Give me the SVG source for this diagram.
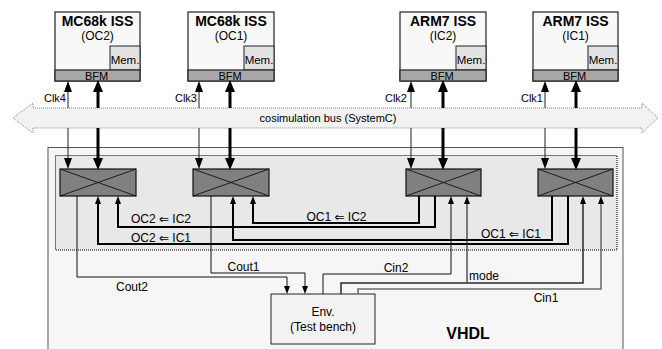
<svg xmlns="http://www.w3.org/2000/svg" width="662" height="349" viewBox="0 0 662 349">
<style>
text{font-family:"Liberation Sans",Arial,"DejaVu Sans",sans-serif;fill:#000}
.title{font-size:14px;font-weight:bold;text-anchor:middle}
.sub{font-size:12px;text-anchor:middle}
.lbl{font-size:12px}
.clk{font-size:11px;text-anchor:end}
.iss{fill:#f8f8f8;stroke:#222;stroke-width:1.2}
.mem{fill:#e2e2e2;stroke:#222;stroke-width:1}
.bfm{fill:#a8a8a8;stroke:#222;stroke-width:1.2}
.xb{fill:#808080;stroke:#111;stroke-width:1.2}
.xl{stroke:#111;stroke-width:0.9;fill:none}
.c{fill:none;stroke-linejoin:miter}
.thin{stroke:#333;stroke-width:1.1}
.thick{stroke:#000;stroke-width:3}
.med{stroke:#000;stroke-width:2}
.sig{stroke:#111;stroke-width:1}
.gray{stroke:#6e6e6e;stroke-width:1.6}
</style>
<defs>
<marker id="ab" markerUnits="userSpaceOnUse" markerWidth="12" markerHeight="11" refX="7" refY="5" orient="auto"><path d="M0,0 L12,5 L0,10 z" fill="#000"/></marker>
<marker id="am" markerUnits="userSpaceOnUse" markerWidth="11" markerHeight="9" refX="8" refY="4" orient="auto"><path d="M0,0 L11,4 L0,8 z" fill="#000"/></marker>
<marker id="as" markerUnits="userSpaceOnUse" markerWidth="8" markerHeight="7" refX="5" refY="3" orient="auto"><path d="M0,0 L8,3 L0,6 z" fill="#000"/></marker>
</defs>

<g id="vhdl">
<rect x="48" y="147.5" width="575" height="206" fill="#f6f6f6" stroke="#555" stroke-width="1"/>
<rect x="55.5" y="155.5" width="561.5" height="94.5" fill="#e8e8e8" stroke="#000" stroke-width="1" stroke-dasharray="1,1"/>
<text x="468" y="339" style="font-size:16px;font-weight:bold;text-anchor:middle">VHDL</text>
</g>

<g id="bus">
<path d="M13,118 L33,103 L33,108 L642,108 L642,103 L658,118 L642,133 L642,128 L33,128 L33,133 Z" fill="#f2f2f2" stroke="#888" stroke-width="1" stroke-dasharray="1,1"/>
<text x="328" y="122" style="font-size:11px;text-anchor:middle">cosimulation bus (SystemC)</text>
</g>

<g id="iss-oc2">
<rect class="iss" x="55" y="12" width="85" height="69"/>
<rect class="mem" x="110" y="46" width="30" height="24"/>
<rect class="bfm" x="55" y="70" width="85" height="11"/>
<text class="title" x="97.5" y="26">MC68k ISS</text>
<text class="sub" x="97.5" y="40">(OC2)</text>
<text x="125" y="64" style="font-size:11.5px;text-anchor:middle">Mem.</text>
<text x="96.5" y="80" style="font-size:11px;text-anchor:middle">BFM</text>
</g>
<g id="iss-oc1">
<rect class="iss" x="188" y="12" width="86" height="69"/>
<rect class="mem" x="244" y="46" width="30" height="24"/>
<rect class="bfm" x="188" y="70" width="86" height="11"/>
<text class="title" x="231" y="26">MC68k ISS</text>
<text class="sub" x="231" y="40">(OC1)</text>
<text x="259" y="64" style="font-size:11.5px;text-anchor:middle">Mem.</text>
<text x="230" y="80" style="font-size:11px;text-anchor:middle">BFM</text>
</g>
<g id="iss-ic2">
<rect class="iss" x="400" y="12" width="86" height="69"/>
<rect class="mem" x="456" y="46" width="30" height="24"/>
<rect class="bfm" x="400" y="70" width="86" height="11"/>
<text class="title" x="443" y="26">ARM7 ISS</text>
<text class="sub" x="443" y="40">(IC2)</text>
<text x="471" y="64" style="font-size:11.5px;text-anchor:middle">Mem.</text>
<text x="442" y="80" style="font-size:11px;text-anchor:middle">BFM</text>
</g>
<g id="iss-ic1">
<rect class="iss" x="533" y="12" width="85" height="69"/>
<rect class="mem" x="588" y="46" width="30" height="24"/>
<rect class="bfm" x="533" y="70" width="85" height="11"/>
<text class="title" x="575.5" y="26">ARM7 ISS</text>
<text class="sub" x="575.5" y="40">(IC1)</text>
<text x="603" y="64" style="font-size:11.5px;text-anchor:middle">Mem.</text>
<text x="574.5" y="80" style="font-size:11px;text-anchor:middle">BFM</text>
</g>

<g id="xbar1"><rect class="xb" x="60" y="169" width="76" height="27"/><path class="xl" d="M60,169 L136,196 M60,196 L136,169"/></g>
<g id="xbar2"><rect class="xb" x="193" y="169" width="76" height="27"/><path class="xl" d="M193,169 L269,196 M193,196 L269,169"/></g>
<g id="xbar3"><rect class="xb" x="406" y="169" width="75" height="27"/><path class="xl" d="M406,169 L481,196 M406,196 L481,169"/></g>
<g id="xbar4"><rect class="xb" x="538" y="169" width="75" height="27"/><path class="xl" d="M538,169 L613,196 M538,196 L613,169"/></g>

<g id="env">
<rect x="271" y="294" width="104" height="50" fill="#f2f2f2" stroke="#222" stroke-width="1"/>
<text class="sub" x="323" y="316">Env.</text>
<text class="sub" x="323" y="331">(Test bench)</text>
</g>

<g id="connectors">
<!-- bus to BFM -->
<path class="c thin" d="M68,108 L68,84" marker-end="url(#am)"/>
<path class="c thick" d="M98,108 L98,85" marker-end="url(#ab)"/>
<path class="c thin" d="M199,108 L199,84" marker-end="url(#am)"/>
<path class="c thick" d="M230,108 L230,85" marker-end="url(#ab)"/>
<path class="c thin" d="M411,108 L411,84" marker-end="url(#am)"/>
<path class="c thick" d="M443,108 L443,85" marker-end="url(#ab)"/>
<path class="c thin" d="M545,108 L545,84" marker-end="url(#am)"/>
<path class="c thick" d="M576,108 L576,85" marker-end="url(#ab)"/>
<!-- bus to crossbars -->
<path class="c thin" d="M68,128 L68,166" marker-end="url(#am)"/>
<path class="c thick" d="M98,128 L98,165" marker-end="url(#ab)"/>
<path class="c thin" d="M199,128 L199,166" marker-end="url(#am)"/>
<path class="c thick" d="M230,128 L230,165" marker-end="url(#ab)"/>
<path class="c thin" d="M411,128 L411,166" marker-end="url(#am)"/>
<path class="c thick" d="M443,128 L443,165" marker-end="url(#ab)"/>
<path class="c thin" d="M545,128 L545,166" marker-end="url(#am)"/>
<path class="c thick" d="M576,128 L576,165" marker-end="url(#ab)"/>
<!-- inter-crossbar -->
<path class="c med" d="M419,196 L419,223 L253,223 L253,199" marker-end="url(#as)"/>
<path class="c med" d="M435,196 L435,227 L118,227 L118,199" marker-end="url(#as)"/>
<path class="c med" d="M552,196 L552,240 L233,240 L233,199" marker-end="url(#as)"/>
<path class="c med" d="M568,196 L568,244 L98,244 L98,199" marker-end="url(#as)"/>
<!-- outputs to env -->
<path class="c sig" d="M77,196 L77,277 L287,277 L287,291" marker-end="url(#as)"/>
<path class="c sig" d="M211,196 L211,273 L305,273 L305,291" marker-end="url(#as)"/>
<!-- env to IC crossbars -->
<path class="c sig" d="M323,294 L323,274 L451,274 L451,199" marker-end="url(#as)"/>
<path class="c" stroke="#2a2a2a" stroke-width="1.5" d="M341,294 L341,283 L583,283 L583,199" marker-end="url(#as)"/>
<path class="c" stroke="#2a2a2a" stroke-width="1.2" d="M467,283 L467,199" marker-end="url(#as)"/>
<path class="c gray" d="M358,294 L358,289 L601,289 L601,199" marker-end="url(#as)"/>
</g>

<g id="labels">
<text class="clk" x="66" y="102">Clk4</text>
<text class="clk" x="197" y="102">Clk3</text>
<text class="clk" x="407" y="102">Clk2</text>
<text class="clk" x="543" y="102">Clk1</text>
<text class="lbl" x="161" y="223" text-anchor="middle">OC2 ⇐ IC2</text>
<text class="lbl" x="161" y="242" text-anchor="middle">OC2 ⇐ IC1</text>
<text class="lbl" x="336.5" y="221" text-anchor="middle">OC1 ⇐ IC2</text>
<text class="lbl" x="511" y="238" text-anchor="middle">OC1 ⇐ IC1</text>
<text class="lbl" x="132" y="291" text-anchor="middle">Cout2</text>
<text class="lbl" x="243.5" y="271" text-anchor="middle">Cout1</text>
<text class="lbl" x="396" y="271.5" text-anchor="middle">Cin2</text>
<text class="lbl" x="469" y="280">mode</text>
<text class="lbl" x="546" y="302" text-anchor="middle">Cin1</text>
</g>
</svg>
